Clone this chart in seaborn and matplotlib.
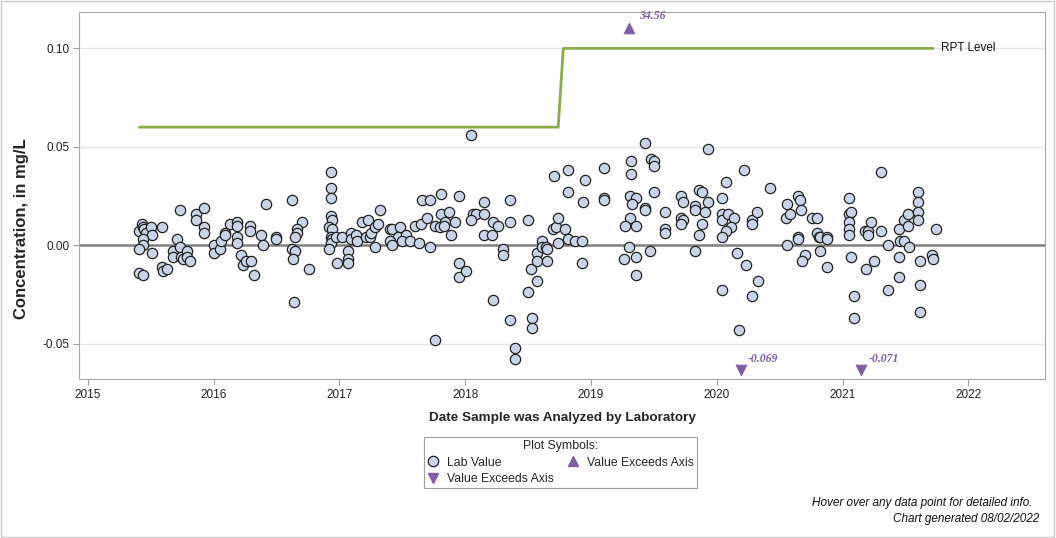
import matplotlib
matplotlib.use("Agg")
import numpy as np
import pandas as pd
import matplotlib.pyplot as plt
import seaborn as sns
from matplotlib.lines import Line2D
from matplotlib.patches import Rectangle

# Lab values by year (decimal year of analysis, concentration mg/L)
dates_2015 = [2015.43, 2015.41, 2015.44, 2015.45, 2015.46, 2015.50, 2015.51, 2015.44, 2015.44, 2015.41,
              2015.51, 2015.41, 2015.44, 2015.59, 2015.73, 2015.59, 2015.60, 2015.63, 2015.71, 2015.68,
              2015.68, 2015.73, 2015.74, 2015.76, 2015.79, 2015.79, 2015.81, 2015.86, 2015.86, 2015.92,
              2015.92, 2015.92]
values_2015 = [0.011, 0.007, 0.009, 0.008, 0.006, 0.009, 0.005, 0.003, 0.000, -0.002,
               -0.004, -0.014, -0.015, 0.009, 0.018, -0.011, -0.013, -0.012, 0.003, -0.003,
               -0.006, -0.001, -0.006, -0.007, -0.003, -0.006, -0.008, 0.016, 0.013, 0.019,
               0.009, 0.006]

dates_2016 = [2016.00, 2016.00, 2016.05, 2016.06, 2016.09, 2016.09, 2016.13, 2016.19, 2016.19, 2016.19,
              2016.19, 2016.22, 2016.23, 2016.26, 2016.30, 2016.29, 2016.29, 2016.32, 2016.42, 2016.38,
              2016.39, 2016.50, 2016.50, 2016.62, 2016.70, 2016.66, 2016.66, 2016.65, 2016.62, 2016.65,
              2016.63, 2016.64, 2016.76, 2016.93, 2016.93, 2016.93, 2016.93, 2016.94, 2016.92, 2016.94,
              2016.93, 2016.94, 2016.93, 2016.92, 2016.97, 2016.98]
values_2016 = [0.000, -0.004, -0.002, 0.002, 0.006, 0.005, 0.011, 0.012, 0.010, 0.004,
               0.001, -0.005, -0.010, -0.008, -0.008, 0.010, 0.007, -0.015, 0.021, 0.005,
               0.000, 0.004, 0.003, 0.023, 0.012, 0.008, 0.006, 0.004, -0.002, -0.003,
               -0.007, -0.029, -0.012, 0.037, 0.029, 0.024, 0.015, 0.013, 0.009, 0.008,
               0.004, 0.003, 0.001, -0.002, 0.004, -0.009]

dates_2017 = [2017.02, 2017.07, 2017.07, 2017.07, 2017.09, 2017.09, 2017.13, 2017.14, 2017.18, 2017.23,
              2017.21, 2017.24, 2017.25, 2017.28, 2017.31, 2017.28, 2017.32, 2017.40, 2017.42, 2017.48,
              2017.47, 2017.40, 2017.42, 2017.53, 2017.50, 2017.56, 2017.63, 2017.72, 2017.60, 2017.65,
              2017.70, 2017.66, 2017.72, 2017.81, 2017.76, 2017.80, 2017.81, 2017.87, 2017.84, 2017.83,
              2017.92, 2017.89, 2017.95, 2017.95, 2017.95, 2017.76]
values_2017 = [0.004, -0.003, -0.007, -0.009, 0.006, 0.003, 0.005, 0.002, 0.012, 0.013,
               0.004, 0.004, 0.006, 0.009, 0.011, -0.001, 0.018, 0.008, 0.008, 0.009,
               0.004, 0.002, 0.000, 0.005, 0.002, 0.002, 0.001, -0.001, 0.010, 0.011,
               0.014, 0.023, 0.023, 0.026, 0.010, 0.009, 0.016, 0.017, 0.012, 0.010,
               0.012, 0.005, 0.025, -0.009, -0.016, -0.048]

dates_2018 = [2018.01, 2018.06, 2018.09, 2018.05, 2018.05, 2018.15, 2018.15, 2018.15, 2018.21, 2018.22,
              2018.26, 2018.22, 2018.30, 2018.30, 2018.36, 2018.36, 2018.36, 2018.40, 2018.40, 2018.50,
              2018.52, 2018.50, 2018.53, 2018.53, 2018.57, 2018.57, 2018.57, 2018.61, 2018.61, 2018.64,
              2018.65, 2018.65, 2018.71, 2018.70, 2018.72, 2018.74, 2018.79, 2018.74, 2018.82, 2018.82,
              2018.82, 2018.87, 2018.93, 2018.95, 2018.94, 2018.93]
values_2018 = [-0.013, 0.016, 0.016, 0.013, 0.056, 0.016, 0.022, 0.005, 0.005, 0.012,
               0.010, -0.028, -0.002, -0.005, 0.023, 0.012, -0.038, -0.052, -0.058, 0.013,
               -0.012, -0.024, -0.037, -0.042, -0.004, -0.008, -0.018, 0.002, -0.001, -0.001,
               -0.002, -0.008, 0.035, 0.008, 0.009, 0.014, 0.008, 0.001, 0.038, 0.027,
               0.003, 0.002, 0.002, 0.033, 0.022, -0.009]

dates_2019 = [2019.10, 2019.10, 2019.10, 2019.43, 2019.32, 2019.32, 2019.48, 2019.50, 2019.50, 2019.31,
              2019.36, 2019.33, 2019.43, 2019.43, 2019.50, 2019.31, 2019.27, 2019.36, 2019.59, 2019.59,
              2019.59, 2019.30, 2019.26, 2019.36, 2019.36, 2019.47, 2019.72, 2019.73, 2019.72, 2019.73,
              2019.72, 2019.83, 2019.83, 2019.91, 2019.86, 2019.88, 2019.93, 2019.88, 2019.86, 2019.83,
              2019.93]
values_2019 = [0.039, 0.024, 0.023, 0.052, 0.043, 0.036, 0.044, 0.043, 0.040, 0.025,
               0.024, 0.021, 0.019, 0.018, 0.027, 0.014, 0.010, 0.010, 0.017, 0.008,
               0.006, -0.001, -0.007, -0.006, -0.015, -0.003, 0.025, 0.022, 0.014, 0.013,
               0.011, 0.020, 0.018, 0.017, 0.028, 0.027, 0.022, 0.011, 0.005, -0.003,
               0.049]

dates_2020 = [2020.07, 2020.04, 2020.04, 2020.04, 2020.09, 2020.14, 2020.11, 2020.07, 2020.04, 2020.16,
              2020.04, 2020.18, 2020.22, 2020.42, 2020.28, 2020.28, 2020.32, 2020.23, 2020.33, 2020.28,
              2020.56, 2020.55, 2020.58, 2020.65, 2020.66, 2020.67, 2020.56, 2020.65, 2020.65, 2020.70,
              2020.68, 2020.76, 2020.80, 2020.80, 2020.81, 2020.82, 2020.82, 2020.88, 2020.88, 2020.88]
values_2020 = [0.032, 0.024, 0.016, 0.013, 0.016, 0.014, 0.009, 0.007, 0.004, -0.004,
               -0.023, -0.043, 0.038, 0.029, 0.013, 0.011, 0.017, -0.010, -0.018, -0.026,
               0.021, 0.014, 0.016, 0.025, 0.023, 0.018, 0.000, 0.004, 0.003, -0.005,
               -0.008, 0.014, 0.014, 0.006, 0.004, 0.004, -0.003, 0.004, 0.003, -0.011]

dates_2021 = [2021.05, 2021.05, 2021.07, 2021.05, 2021.05, 2021.05, 2021.07, 2021.09, 2021.09, 2021.18,
              2021.20, 2021.20, 2021.23, 2021.19, 2021.25, 2021.31, 2021.31, 2021.36, 2021.36, 2021.45,
              2021.49, 2021.52, 2021.52, 2021.46, 2021.49, 2021.53, 2021.45, 2021.45, 2021.60, 2021.60,
              2021.60, 2021.60, 2021.62, 2021.62, 2021.62, 2021.71, 2021.72, 2021.74]
values_2021 = [0.024, 0.016, 0.017, 0.012, 0.008, 0.005, -0.006, -0.026, -0.037, 0.007,
               0.007, 0.005, 0.012, -0.012, -0.008, 0.037, 0.007, 0.000, -0.023, 0.008,
               0.013, 0.016, 0.010, 0.002, 0.002, -0.001, -0.006, -0.016, 0.027, 0.022,
               0.017, 0.013, -0.008, -0.020, -0.034, -0.005, -0.007, 0.008]

# values beyond the axis range
above_dates = [2019.30]
above_labels = ["34.56"]
below_dates = [2020.19, 2021.15]
below_labels = ["-0.069", "-0.071"]

# reporting level step line
rpt_dates = [2015.41, 2018.74, 2018.78, 2021.72]
rpt_levels = [0.06, 0.06, 0.10, 0.10]

year_ticks = [2015, 2016, 2017, 2018, 2019, 2020, 2021, 2022]
value_ticks = [-0.05, 0.00, 0.05, 0.10]

lab = pd.DataFrame({
    "date": dates_2015 + dates_2016 + dates_2017 + dates_2018 + dates_2019 + dates_2020 + dates_2021,
    "value": values_2015 + values_2016 + values_2017 + values_2018 + values_2019 + values_2020 + values_2021,
})

Y_MIN, Y_MAX = -0.068, 0.1185
top_marker = 0.1105
bottom_marker = -0.0633

sns.set_theme(style="white")
plt.rcParams["font.family"] = ["Liberation Sans", "DejaVu Sans"]

purple = "#7e5fa6"
fill = "#c9d5e6"
green = "#8cac4c"

fig = plt.figure(figsize=(10.56, 5.38), dpi=100)
ax = fig.add_axes([0.0748, 0.2955, 0.9148, 0.6822])

for v in value_ticks:
    if v != 0:
        ax.axhline(v, color="#e6e6e6", lw=0.9, zorder=0)
ax.axhline(0, color="#808080", lw=1.8, zorder=1)

sns.lineplot(x=rpt_dates, y=rpt_levels, ax=ax, color=green, lw=2, estimator=None, sort=False, zorder=2)
ax.text(2021.78, 0.10, "RPT Level", fontsize=8.5, va="center", ha="left", color="#111111")

sns.scatterplot(data=lab, x="date", y="value", ax=ax, s=55, color=fill, edgecolor="#222222",
                linewidth=0.9, zorder=3, legend=False)

sns.scatterplot(x=above_dates, y=[top_marker] * len(above_dates), ax=ax, marker="^", s=60,
                color=purple, edgecolor=purple, zorder=3, legend=False)
sns.scatterplot(x=below_dates, y=[bottom_marker] * len(below_dates), ax=ax, marker="v", s=60,
                color=purple, edgecolor=purple, zorder=3, legend=False)
for d, lbl in zip(above_dates, above_labels):
    ax.text(d + 0.08, 0.1164, lbl, color=purple, fontsize=8.5, fontweight="bold", style="italic",
            family=["Liberation Serif", "DejaVu Serif"], va="center")
for d, lbl in zip(below_dates, below_labels):
    ax.text(d + 0.06, -0.058, lbl, color=purple, fontsize=8.5, fontweight="bold", style="italic",
            family=["Liberation Serif", "DejaVu Serif"], va="center")

ax.set_xlim(2014.93, 2022.61)
ax.set_ylim(Y_MIN, Y_MAX)
ax.set_xticks(year_ticks)
ax.set_xticklabels([str(y) for y in year_ticks])
ax.set_yticks(value_ticks)
ax.set_yticklabels([f"{v:.2f}" for v in value_ticks])
ax.tick_params(axis="both", which="both", direction="out", length=4, width=0.8, color="#a0a0a0",
               labelsize=8.5, labelcolor="#222222", pad=3, bottom=True, left=True)
for sp in ax.spines.values():
    sp.set_color("#a8a8a8")
    sp.set_linewidth(0.8)

ax.set_xlabel("Date Sample was Analyzed by Laboratory", fontsize=9.7, fontweight="bold", labelpad=8)
ax.set_ylabel("Concentration, in mg/L", fontsize=12, fontweight="bold")
ax.yaxis.set_label_coords(-0.052, 0.41)

handles = [
    Line2D([], [], ls="", marker="o", ms=7.5, mfc=fill, mec="#222222", mew=0.9, label="Lab Value"),
    Line2D([], [], ls="", marker="v", ms=7.5, mfc=purple, mec=purple, label="Value Exceeds Axis"),
    Line2D([], [], ls="", marker="^", ms=7.5, mfc=purple, mec=purple, label="Value Exceeds Axis"),
]
leg = fig.legend(handles=handles, ncol=2, title="Plot Symbols:", fontsize=8.8, title_fontsize=8.8,
                 loc="center", bbox_to_anchor=(560.5 / 1056, 1 - 462.5 / 538), frameon=True,
                 fancybox=False, framealpha=1, edgecolor="#a0a0a0", borderpad=0.3,
                 handlelength=1.0, handletextpad=0.6, columnspacing=1.1, labelspacing=0.35)
leg.get_frame().set_linewidth(0.8)

fig.text(1033 / 1056, 1 - 503 / 538, "Hover over any data point for detailed info.", ha="right",
         va="center", fontsize=8.5, style="italic", color="#111111")
fig.text(1039 / 1056, 1 - 519 / 538, "Chart generated 08/02/2022", ha="right",
         va="center", fontsize=8.5, style="italic", color="#111111")

fig.add_artist(Rectangle((0.0005, 0.001), 0.998, 0.997, transform=fig.transFigure, fill=False,
                         edgecolor="#c8c8c8", lw=1))

fig.savefig("out.png", dpi=100)
